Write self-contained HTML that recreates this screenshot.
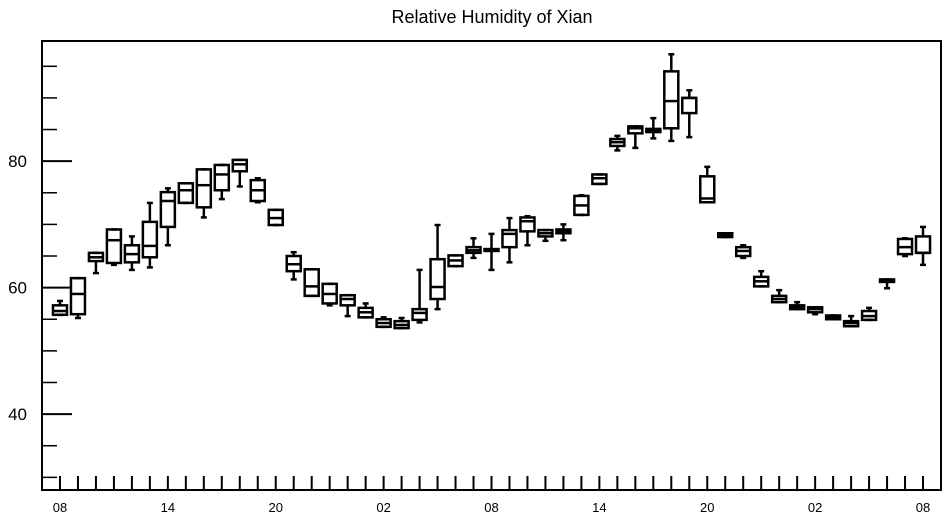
<!DOCTYPE html>
<html><head><meta charset="utf-8"><style>
body{margin:0;background:#fff;}
svg{display:block;font-family:"Liberation Sans",sans-serif;}
</style></head><body>
<svg id="chart" width="947" height="520" viewBox="0 0 947 520" xmlns="http://www.w3.org/2000/svg">
<text x="492" y="23" font-size="18" text-anchor="middle">Relative Humidity of Xian</text>
<rect x="42" y="41" width="899" height="449" fill="none" stroke="#000" stroke-width="2"/>
<g id="axes"></g>
<g id="boxes"></g>
</svg>
<script>
const hours = [0,1,2,3,4,5,6,7,8,9,10,11,12,13,14,15,16,17,18,19,20,21,22,23,24,25,26,27,28,29,30,31,32,33,34,35,36,37,38,39,40,41,42,43,44,45,46,47,48];
const maxVals = [57.9,61.5,65.5,69.2,68.1,73.4,75.7,76.5,78.7,79.4,80.2,77.3,72.3,65.6,62.9,60.6,58.8,57.5,55.3,55.2,62.8,69.9,65.1,67.8,68.5,71.0,71.3,69.1,70.0,74.6,77.9,84.0,85.5,86.8,96.9,91.2,79.1,68.6,66.7,62.6,59.6,57.7,56.9,55.6,55.5,56.8,61.3,67.8,69.6];
const q3Vals = [57.2,61.5,65.5,69.2,66.7,70.4,75.1,76.5,78.7,79.4,80.2,77.0,72.3,65.0,62.9,60.6,58.8,56.8,55.0,54.7,56.6,64.5,65.1,66.4,66.1,69.1,71.1,69.1,69.2,74.5,77.9,83.5,85.5,85.1,94.2,90.0,77.6,68.6,66.4,61.7,58.7,57.2,56.9,55.6,54.7,56.3,61.3,67.7,68.1];
const medVals = [56.3,59.0,64.8,67.5,65.3,66.6,73.7,75.4,76.2,77.9,79.5,75.4,71.0,63.7,60.2,59.0,58.2,56.1,54.4,54.1,56.0,60.1,64.3,65.9,65.9,68.5,70.5,68.6,68.9,73.0,77.3,83.0,85.2,84.9,89.5,90.0,74.1,68.3,65.8,61.0,58.2,56.9,56.6,55.3,54.4,55.5,61.0,66.4,65.5];
const q1Vals = [55.7,55.8,64.2,63.9,64.0,64.8,69.6,73.4,72.7,75.4,78.4,73.7,69.9,62.6,58.7,57.5,57.2,55.3,53.8,53.6,54.9,58.2,63.4,65.5,65.8,66.4,68.9,68.1,68.6,71.5,76.4,82.4,84.4,84.6,85.2,87.6,73.5,68.0,65.0,60.2,57.7,56.6,56.1,55.0,53.9,54.9,60.9,65.3,65.5];
const minVals = [55.7,55.2,62.3,63.6,62.8,63.2,66.7,73.4,71.1,74.0,76.0,73.5,69.9,61.3,58.7,57.2,55.5,55.3,53.8,53.6,54.5,56.6,63.4,64.7,62.8,64.0,66.7,67.4,67.5,71.5,76.4,81.7,82.1,83.6,83.2,83.8,73.5,68.0,64.7,60.2,57.7,56.6,55.8,55.0,53.9,54.9,59.9,65.0,63.6];
const xTickLabels = ["08","14","20","02","08","14","20","02","08"];
const yTickLabels = [40,60,80];

const X0=42,X1=941,Y0=41,Y1=490;
const xMin=-1,xMax=49,yMin=28,yMax=99;
function xs(h){return X0+(h-xMin)/(xMax-xMin)*(X1-X0);}
function ys(v){return Y1-(v-yMin)/(yMax-yMin)*(Y1-Y0);}
const NS="http://www.w3.org/2000/svg";
function mk(tag,attrs,parent){const e=document.createElementNS(NS,tag);for(const k in attrs)e.setAttribute(k,attrs[k]);parent.appendChild(e);return e;}
const axes=document.getElementById('axes');
const boxes=document.getElementById('boxes');

// y ticks
for(let v=30;v<=95;v+=5){
  const major=yTickLabels.indexOf(v)>=0;
  const t=mk('line',{x1:X0,x2:X0+(major?30:15),y1:ys(v),y2:ys(v),stroke:'#000','stroke-width':major?2:1.5},axes);
  
  
}
yTickLabels.forEach(v=>{
  const t=mk('text',{x:27,y:ys(v)+6,'font-size':17,'text-anchor':'end'},axes);
  t.textContent=v;
  
  
});
// x ticks
hours.forEach(h=>{
  const t=mk('line',{x1:xs(h),x2:xs(h),y1:Y1,y2:Y1-14,stroke:'#000','stroke-width':2},axes);
  
  
});
xTickLabels.forEach((lab,i)=>{
  const t=mk('text',{x:xs(i*6),y:512,'font-size':13,'text-anchor':'middle'},axes);
  t.textContent=lab;
  
  
});
// boxes
const bw=7;
hours.forEach((h,i)=>{
  const g=mk('g',{stroke:'#000','stroke-width':2.5,fill:'none'},boxes);
  
  
  const x=xs(h);
  mk('line',{x1:x,x2:x,y1:ys(maxVals[i]),y2:ys(q3Vals[i])},g);
  mk('line',{x1:x,x2:x,y1:ys(q1Vals[i]),y2:ys(minVals[i])},g);
  mk('line',{x1:x-3,x2:x+3,y1:ys(maxVals[i]),y2:ys(maxVals[i])},g);
  mk('line',{x1:x-3,x2:x+3,y1:ys(minVals[i]),y2:ys(minVals[i])},g);
  const top=ys(q3Vals[i]),bot=ys(q1Vals[i]);
  mk('rect',{x:x-bw,y:top,width:2*bw,height:Math.max(bot-top,1.5)},g);
  mk('line',{x1:x-bw,x2:x+bw,y1:ys(medVals[i]),y2:ys(medVals[i])},g);
});
</script>
</body></html>
